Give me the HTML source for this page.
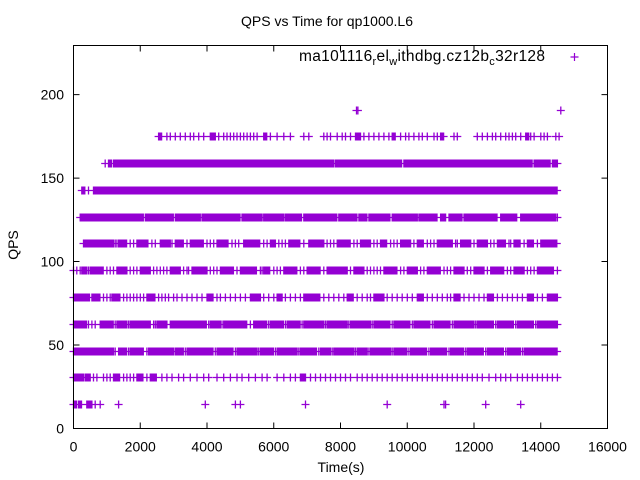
<!DOCTYPE html>
<html><head><meta charset="utf-8"><style>
body{margin:0;background:#fff}
svg{display:block;font-family:"Liberation Sans",sans-serif}
</style></head><body>
<svg id="chart" width="640" height="480">
<rect width="640" height="480" fill="#fff"/>
<text x="327" y="26" font-size="14" text-anchor="middle">QPS vs Time for qp1000.L6</text>
<text x="18" y="245" font-size="14" text-anchor="middle" transform="rotate(-90 18 245)">QPS</text>
<text x="341" y="472" font-size="14" text-anchor="middle">Time(s)</text>
<g id="axes"></g>
<g id="marks"></g>
<g>
<text x="545" y="61" font-size="15.5" text-anchor="end" textLength="246">ma101116<tspan font-size="11" dy="4">r</tspan><tspan dy="-4">el</tspan><tspan font-size="11" dy="4">w</tspan><tspan dy="-4">ithdbg.cz12b</tspan><tspan font-size="11" dy="4">c</tspan><tspan dy="-4">32r128</tspan></text>
<path d="M570.5 57H578.5M574.5 53V61" stroke="#9400d3" stroke-width="1.2"/>
</g>
<rect x="73.5" y="45.5" width="534" height="383" fill="none" stroke="#000"/>
</svg>
<script>
const xTicks=[0,2000,4000,6000,8000,10000,12000,14000,16000];
const yTicks=[0,50,100,150,200];
const levels=[14.6,30.6,46.7,62.7,78.8,94.8,110.9,126.9,143.0,159.0,175.0,191.0];
// dense runs [start,end] per level (seconds)
const runs16=[[0,100],[150,250],[400,550]];
const runs32=[[0,300],[350,500],[1200,1400],[1900,2100],[2300,2500],[6800,6950]];
const runs48=[[0,1200],[1350,1600],[1700,2100],[2250,3000],[3050,3300],[3400,4200],[4300,4800],[4900,5500],[5600,6000],[6100,6700],[6800,7300],[7400,7700],[7800,8400],[8500,8800],[8900,9500],[9600,10000],[10100,10600],[10700,11200],[11300,11700],[11800,12300],[12400,12900],[13000,13400],[13500,14500]];
const runs64=[[0,400],[800,1200],[1300,1600],[1700,2300],[2500,2800],[2900,4000],[4100,4400],[4500,5200],[5400,5800],[5900,6300],[6400,6800],[6900,7500],[7600,8200],[8300,8900],[9000,9500],[9600,10100],[10200,10700],[10800,11300],[11400,12000],[12100,12600],[12700,13200],[13300,13800],[13900,14500]];
const runs80=[[0,500],[550,800],[1150,1400],[2200,2450],[4000,4200],[5300,5600],[6100,6250],[6900,7400],[8200,8400],[9000,9300],[10300,10500],[11400,11600],[12400,12600],[13600,13800],[14200,14500]];
const runs96=[[250,400],[500,900],[1300,1600],[2000,2300],[2900,3200],[3550,4000],[4400,4800],[5000,5500],[5700,5900],[6300,6700],[7000,7400],[7600,8200],[8400,8700],[9300,9700],[10000,10300],[10600,11000],[11400,11700],[12000,12300],[12500,12900],[13200,13500],[13900,14400]];
const runs112=[[300,1200],[1350,1600],[1900,2250],[2600,2900],[3050,3300],[3500,3900],[4300,4650],[5100,5600],[5900,6050],[6450,6800],[7050,7500],[7900,8300],[8600,8900],[9200,9400],[9800,10100],[10300,10500],[10900,11350],[11600,11900],[12100,12400],[12700,12950],[13200,13400],[13600,13800],[14000,14500]];
const runs128=[[200,2100],[2150,3000],[3050,3800],[3850,5000],[5050,5650],[5700,6300],[6350,6850],[6900,7900],[7950,8500],[8550,8800],[8850,9500],[9550,10300],[10350,10900],[11000,11150],[11250,11650],[11700,12700],[12800,13300],[13400,14450]];
const runs144=[[250,350],[600,14500]];
const runs160=[[1050,1150],[1200,7800],[7850,9850],[9900,13750],[13800,14300],[14350,14500]];
const runs176=[[2550,2650],[4100,4250],[5700,5800],[8450,8600],[9550,9650],[11000,11100],[13550,13650]];
const runs192=[];
// sparse individual points per level (seconds)
const pts16=[0,650,800,1350,3950,4850,5000,6950,9400,11100,11150,12350,13400];
const pts32=[600,700,900,1000,1100,1500,1600,1700,1800,2200,2650,2800,2950,3150,3300,3500,3700,3900,4050,4300,4500,4700,4900,5050,5250,5450,5650,5800,6100,6300,6500,6650,7100,7250,7400,7550,7700,7850,8000,8150,8300,8500,8650,8800,8950,9100,9250,9400,9550,9700,9850,10000,10150,10300,10450,10600,10750,10900,11050,11200,11350,11500,11650,11800,11950,12100,12250,12450,12650,12800,12950,13100,13300,13450,13600,13750,13900,14050,14200,14350,14500];
const pts48=[1250,1650,2200,3350,4250,4850,5550,6050,6750,7350,7750,8450,8850,9550,10050,10650,11250,11750,12350,12950,13450];
const pts64=[450,550,650,1250,1650,2400,2450,4050,4450,5300,5850,6350,6850,7550,8250,8950,9550,10150,10750,11350,12050,12650,13250,13850];
const pts80=[900,1000,1100,1500,1600,1700,1800,1900,2000,2100,2550,2650,2750,2850,3000,3100,3250,3400,3550,3700,3850,4300,4400,4550,4700,4850,5000,5150,5700,5850,6000,6350,6500,6650,6800,7500,7650,7800,7950,8100,8500,8650,8800,8900,9400,9550,9700,9850,10000,10150,10600,10750,10900,11050,11200,11300,11700,11850,12000,12150,12300,12700,12850,13000,13150,13300,13450,13900,14050];
const pts96=[0,100,200,450,1000,1100,1200,1700,1800,1900,2400,2500,2600,2700,2800,3300,3400,3450,4100,4200,4300,4900,5600,5650,6000,6100,6200,6800,6900,7500,8300,8800,8900,9000,9100,9200,9800,9900,10400,10500,11100,11200,11300,11800,11900,12400,13000,13100,13600,13700,13800,14500];
const pts112=[1250,1300,1700,1800,2350,2450,2950,3400,4000,4100,4200,4750,4850,4950,5700,5800,6150,6250,6350,6900,7600,7700,7800,8400,8500,9000,9100,9500,9600,9700,10200,10600,10700,10800,11450,11500,12000,12500,12600,13050,13100,13500,13900];
const pts128=[14500];
const pts144=[450];
const pts160=[950];
const pts176=[2800,2900,3050,3200,3350,3500,3600,3750,3900,4350,4500,4600,4700,4800,4900,5000,5100,5200,5300,5400,5500,5900,6100,6300,6500,6900,7050,7500,7600,7700,7900,8050,8150,8300,8700,8850,9000,9150,9300,9450,9800,9950,10050,10200,10350,10450,10600,10800,10900,11400,11500,12100,12250,12400,12550,12650,12800,12950,13050,13150,13250,13400,13700,13800,14000,14100,14200,14450,14550];
const pts192=[8480,8520,14600];
const allRuns=[runs16,runs32,runs48,runs64,runs80,runs96,runs112,runs128,runs144,runs160,runs176,runs192];
const allPts=[pts16,pts32,pts48,pts64,pts80,pts96,pts112,pts128,pts144,pts160,pts176,pts192];

const X0=73.5,X1=607.5,Y0=428.5,Y1=45.5;
const xScale=v=>X0+(v-0)/(16000-0)*(X1-X0);
const yScale=v=>Y0-(v-0)/(229.4-0)*(Y0-Y1);
const NS="http://www.w3.org/2000/svg";
const axes=document.getElementById('axes');
let tp="";
xTicks.forEach(t=>{
  const x=xScale(t);
  tp+=`M${x} ${Y0}v-6M${x} ${Y1}v6`;
  const tx=document.createElementNS(NS,'text');
  tx.setAttribute('x',x);tx.setAttribute('y',Y0+23);
  tx.setAttribute('font-size','14');tx.setAttribute('text-anchor','middle');
  tx.textContent=t;
  
  
  axes.appendChild(tx);
});
yTicks.forEach(t=>{
  const y=yScale(t);
  tp+=`M${X0} ${y}h6M${X1} ${y}h-6`;
  const tx=document.createElementNS(NS,'text');
  tx.setAttribute('x',64);tx.setAttribute('y',y+5);
  tx.setAttribute('font-size','14');tx.setAttribute('text-anchor','end');
  tx.textContent=t;
  
  
  axes.appendChild(tx);
});
const tk=document.createElementNS(NS,'path');
tk.setAttribute('d',tp);tk.setAttribute('stroke','#000');tk.setAttribute('fill','none');


axes.appendChild(tk);

const marks=document.getElementById('marks');
const plus=(x,y)=>`M${(x-4).toFixed(1)} ${y}h8M${x.toFixed(1)} ${y-4}v8`;
levels.forEach((lv,i)=>{
  const y=Math.round(yScale(lv))+0.5;
  let d="";
  allRuns[i].forEach(r=>{
    for(let s=r[0];s<=r[1];s+=30) d+=plus(xScale(s),y);
  });
  allPts[i].forEach(s=>{d+=plus(xScale(s),y);});
  if(!d) return;
  const p=document.createElementNS(NS,'path');
  p.setAttribute('d',d);p.setAttribute('stroke','#9400d3');p.setAttribute('stroke-width','1.3');p.setAttribute('fill','none');
  
  
  marks.appendChild(p);
});
</script>
</body></html>
